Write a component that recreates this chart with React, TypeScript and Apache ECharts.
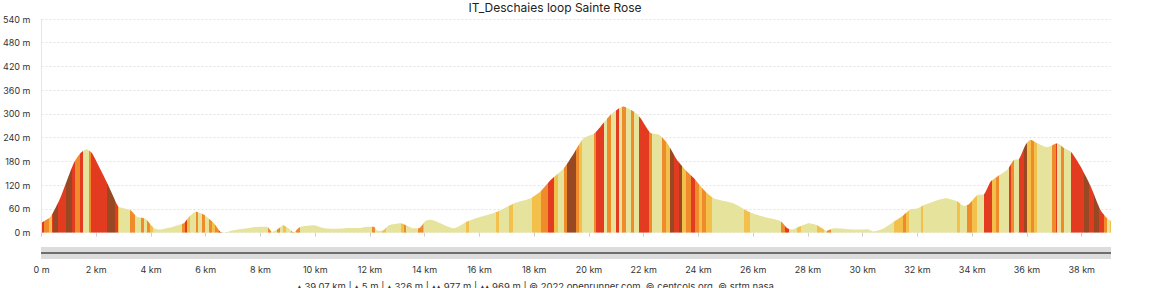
import React, { useEffect, useRef } from "react";
import * as echarts from "echarts";

const TITLE = "IT_Deschaies loop Sainte Rose";

const distanceKm = [
  0, 0.33, 0.69, 1.18, 1.42, 1.64, 1.85, 2.16, 2.46, 2.77, 2.83, 3.25, 3.5, 3.8, 4.1, 4.29,
  5.2, 5.39, 5.63, 5.93, 6.3, 6.54, 6.66, 7.02, 8.0, 8.24, 8.43, 8.61, 8.83, 9.04, 9.2, 9.46,
  9.95, 10.3, 10.7, 11.3, 11.65, 11.9, 12.14, 12.27, 12.45, 12.69, 13.12, 13.6, 13.79, 14.03,
  14.2, 15.07, 15.55, 16.04, 16.65, 17.26, 17.87, 18.23, 18.6, 19.08, 19.45, 19.81, 20.18,
  20.42, 20.79, 21.25, 21.64, 21.88, 22.25, 22.55, 22.86, 23.22, 23.59, 23.83, 24.2, 24.56,
  25.29, 25.9, 26.39, 27.0, 27.25, 27.43, 27.67, 28.04, 28.34, 28.7, 28.95, 29.44, 29.92,
  30.17, 30.41, 30.77, 31.14, 31.5, 31.75, 31.99, 32.24, 32.6, 33.03, 33.46, 33.7, 33.88,
  34.19, 34.43, 34.67, 34.92, 35.28, 35.52, 35.71, 35.95, 36.13, 36.38, 36.74, 37.11, 37.35,
  37.6, 37.96, 38.33, 38.69, 38.94, 39.07,
];

const elevationM = [
  25, 40, 88, 176, 201, 211, 201, 159, 117, 70, 65, 57, 40, 35, 12, 8,
  24, 40, 53, 46, 24, 2, 0, 6, 15, 15, 2, 8, 19, 10, 1, 15,
  19, 12, 10, 12, 12, 15, 15, 5, 5, 19, 24, 11, 11, 30,
  33, 11, 28, 40, 53, 74, 87, 104, 133, 163, 201, 239, 250,
  268, 298, 319, 306, 290, 252, 248, 226, 184, 154, 138, 108, 87,
  74, 51, 40, 29, 11, 8, 15, 24, 19, 5, 11, 9, 8,
  9, 3, 11, 28, 45, 59, 61, 70, 79, 87, 79, 68, 72,
  95, 97, 129, 142, 159, 184, 186, 222, 235, 226, 216, 226, 214,
  205, 167, 117, 57, 36, 30,
];

// slope classes: 0 gentle, 1 moderate, 2 steep, 3 very steep, 4 extreme
const slopeClassColors = ["#e6e39c", "#f3c04c", "#ef8b2a", "#e33b1f", "#984823"];

const stripeStartKm = [
  0.0, 0.11, 0.26, 0.37, 0.44, 0.62, 0.88, 1.11, 1.24, 1.42, 1.52, 1.72, 1.81, 2.41, 2.7, 2.78,
  2.83, 3.25, 3.4, 3.62, 3.73, 3.84, 3.95, 4.06, 5.12, 5.26, 5.32, 5.44, 5.63, 5.72, 5.85, 5.97,
  6.1, 6.21, 6.32, 6.47, 6.58, 8.29, 8.4, 8.62, 8.73, 8.84, 8.95, 9.1, 9.21, 9.28, 9.46, 12.06,
  12.2, 12.42, 12.57, 13.12, 13.23, 13.3, 13.77, 13.92, 13.99, 15.49, 15.6, 16.59, 16.7, 17.07,
  17.21, 17.9, 18.23, 18.52, 18.71, 18.85, 19.08, 19.21, 19.51, 19.63, 19.76, 20.18, 20.24,
  20.54, 20.67, 20.79, 20.97, 21.09, 21.22, 21.34, 21.52, 21.64, 21.82, 22.19, 22.31, 22.68,
  22.8, 22.96, 23.1, 23.28, 23.41, 23.53, 23.71, 23.89, 24.02, 24.14, 24.26, 24.5, 25.66, 25.9,
  27.0, 27.18, 27.29, 27.61, 27.73, 28.34, 28.57, 28.7, 28.83, 31.13, 31.46, 31.57, 31.68,
  32.12, 32.22, 33.46, 33.54, 33.82, 34.0, 34.19, 34.43, 34.73, 34.86, 34.98, 35.34, 35.43,
  35.52, 35.71, 35.89, 36.01, 36.13, 36.26, 36.38, 36.93, 37.05, 37.11, 37.23, 37.35, 37.6,
  38.09, 38.27, 38.45, 38.64, 38.82, 38.94, 39.02,
];

const stripeClass = [
  3, 2, 1, 3, 4, 3, 4, 3, 2, 3, 0, 2, 3, 4, 3, 1,
  0, 2, 0, 2, 0, 2, 1, 0, 2, 3, 1, 0, 2, 0, 2, 0,
  2, 1, 2, 3, 0, 2, 0, 2, 0, 1, 0, 2, 0, 2, 0, 2,
  0, 1, 0, 1, 2, 0, 2, 1, 0, 1, 0, 1, 0, 1,
  0, 1, 2, 3, 1, 0, 2, 4, 2, 1, 0, 2, 3,
  0, 2, 0, 3, 0, 2, 0, 2, 0, 3, 2, 0, 2,
  1, 4, 3, 4, 1, 2, 3, 2, 1, 2, 1, 0, 1, 0,
  2, 3, 0, 1, 0, 1, 0, 2, 0, 1, 2, 1, 0,
  1, 0, 1, 0, 2, 1, 0, 3, 1, 2, 0, 3, 2,
  0, 3, 4, 1, 2, 1, 0, 2, 3, 0, 2, 0, 3,
  4, 3, 4, 3, 2, 0, 1,
];

const yTicksM = [0, 60, 120, 180, 240, 300, 360, 420, 480, 540];
const xTicksKm = [0, 2, 4, 6, 8, 10, 12, 14, 16, 18, 20, 22, 24, 26, 28, 30, 32, 34, 36, 38];
const totalKm = 39.07;

const summaryStats = ["39.07 km", "5 m", "326 m", "977 m", "969 m"];
const summaryIcons = ["▴", "▴", "▴", "▴▴", "▴▴"];
const credits = "© 2022 openrunner.com, © centcols.org, © srtm.nasa";

const FONT = 'Inter, "Noto Sans", "DejaVu Sans", sans-serif';

export default function App() {
  const ref = useRef<HTMLDivElement>(null);

  useEffect(() => {
    document.body.style.margin = "0";
    if (!ref.current) return;
    const chart = echarts.init(ref.current, null, { renderer: "svg" });

    const data = distanceKm.map((d, i) => [d, elevationM[i]]);
    const pieces = stripeStartKm.map((s, i) => {
      const end = i + 1 < stripeStartKm.length ? stripeStartKm[i + 1] : totalKm + 1;
      return { gte: s, lt: end, color: slopeClassColors[stripeClass[i]] };
    });

    const footer =
      summaryStats.map((s, i) => `${summaryIcons[i]} ${s}`).join(" | ") + " | " + credits;

    chart.setOption({
      animation: false,
      textStyle: { fontFamily: FONT },
      grid: { left: 41, right: 39, top: 19, bottom: 55.3 },
      xAxis: {
        type: "value",
        min: 0,
        max: totalKm,
        offset: 26,
        axisLine: { show: false },
        axisTick: {
          show: true,
          customValues: xTicksKm,
          length: 4,
          lineStyle: { color: "#d0d0d0" },
        },
        axisLabel: {
          customValues: xTicksKm,
          formatter: (v: number) => (v === 0 ? "0 m" : `${v} km`),
          fontSize: 9,
          color: "#333",
          margin: 6,
          fontFamily: FONT,
        },
        splitLine: { show: false },
      },
      yAxis: {
        type: "value",
        min: yTicksM[0],
        max: yTicksM[yTicksM.length - 1],
        interval: yTicksM[1] - yTicksM[0],
        axisLine: { show: true, lineStyle: { color: "#e6e6e6", width: 1 } },
        axisTick: { show: false },
        axisLabel: {
          formatter: "{value} m",
          fontSize: 9,
          color: "#333",
          margin: 11,
          fontFamily: FONT,
        },
        splitLine: { show: true, lineStyle: { color: "#e4e4e4", type: [2, 2], width: 1 } },
      },
      visualMap: {
        type: "piecewise",
        show: false,
        dimension: 0,
        seriesIndex: 0,
        pieces,
      },
      series: [
        {
          type: "line",
          data,
          showSymbol: false,
          smooth: 0.2,
          silent: true,
          lineStyle: { width: 0 },
          areaStyle: { opacity: 1 },
        },
      ],
      graphic: [
        {
          type: "text",
          x: 555,
          y: 7,
          style: {
            text: TITLE,
            fill: "#222",
            fontSize: 12,
            fontFamily: FONT,
            textAlign: "center",
            textVerticalAlign: "middle",
          },
        },
        {
          type: "rect",
          shape: { x: 41, y: 247, width: 1070, height: 12 },
          style: { fill: "#dcdcdc" },
          silent: true,
        },
        {
          type: "line",
          shape: { x1: 41, y1: 253, x2: 1111, y2: 253 },
          style: { stroke: "#4a4a4a", lineWidth: 1.5 },
          silent: true,
        },
        {
          type: "text",
          x: 297,
          y: 281,
          style: {
            text: footer,
            fill: "#333",
            fontSize: 9.5,
            fontFamily: FONT,
            textAlign: "left",
            textVerticalAlign: "top",
          },
        },
      ],
    });

    return () => chart.dispose();
  }, []);

  return <div ref={ref} style={{ width: 1150, height: 288 }} />;
}
